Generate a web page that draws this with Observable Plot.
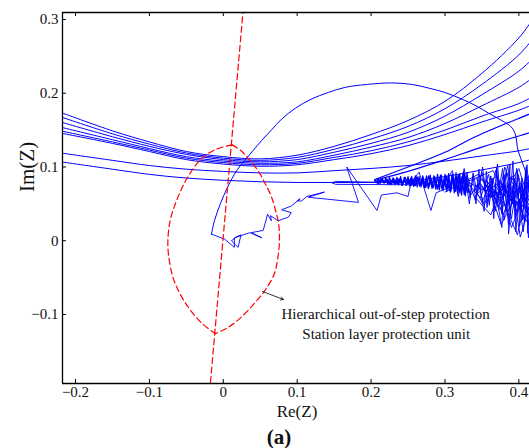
<!DOCTYPE html>
<html>
<head>
<meta charset="utf-8">
<script src="https://cdn.jsdelivr.net/npm/d3@7"></script>
<script src="https://cdn.jsdelivr.net/npm/@observablehq/plot@0.6"></script>
<style>
  html, body { margin: 0; padding: 0; background: #fff; }
</style>
</head>
<body>
<div id="chart"></div>
<script>
// ---------- axes ----------
const xDomain = [-0.2176, 0.4144];
const yDomain = [-0.1936, 0.3095];
const xTicks = [-0.2, -0.1, 0, 0.1, 0.2, 0.3, 0.4];
const yTicks = [-0.1, 0, 0.1, 0.2, 0.3];
const xLabel = "Re(Z)";
const yLabel = "Im(Z)";
const panelLabel = "(a)";
const noteLines = ["Hierarchical out-of-step protection", "Station layer protection unit"];
const noteX = [0.2196, 0.2205];
const noteY = [-0.100, -0.127];
const arrowFrom = [0.053, -0.0688];
const arrowTo = [0.0815, -0.0797];

// ---------- bowl-shaped impedance trajectories ----------
const bowlX = [-0.22, -0.15, -0.1, -0.05, 0, 0.05, 0.1, 0.15, 0.2, 0.25, 0.3, 0.35, 0.4, 0.42];
const U1 = [0.174, 0.149, 0.134, 0.121, 0.114, 0.111, 0.116, 0.128, 0.144, 0.163, 0.189, 0.227, 0.275, 0.302];
const U2 = [0.168, 0.145, 0.131, 0.119, 0.112, 0.109, 0.113, 0.124, 0.138, 0.155, 0.179, 0.212, 0.252, 0.275];
const U3 = [0.161, 0.141, 0.128, 0.117, 0.110, 0.107, 0.110, 0.120, 0.132, 0.147, 0.169, 0.198, 0.230, 0.248];
const U4 = [0.154, 0.137, 0.125, 0.114, 0.108, 0.105, 0.107, 0.116, 0.127, 0.140, 0.159, 0.183, 0.208, 0.222];
const U5 = [0.149, 0.134, 0.123, 0.112, 0.106, 0.103, 0.105, 0.113, 0.122, 0.134, 0.150, 0.169, 0.186, 0.196];
const U6 = [0.146, 0.132, 0.121, 0.110, 0.104, 0.101, 0.103, 0.110, 0.118, 0.129, 0.144, 0.161, 0.177, 0.185];
const L1 = [0.119, 0.109, 0.102, 0.097, 0.094, 0.092, 0.092, 0.095, 0.098, 0.102, 0.108, 0.115, 0.122, 0.126];
const L2 = [0.107, 0.097, 0.090, 0.085, 0.082, 0.080, 0.079, 0.079, 0.079, 0.081, 0.087, 0.096, 0.106, 0.111];

// rays leaving the tongue tip
const ray1X = [0.205, 0.25, 0.30, 0.327, 0.35, 0.40, 0.42];
const ray1Y = [0.083, 0.100, 0.120, 0.134, 0.145, 0.166, 0.174];
const ray2X = [0.205, 0.25, 0.30, 0.35, 0.40, 0.42];
const ray2Y = [0.082, 0.094, 0.110, 0.127, 0.142, 0.148];

// hairpin near the tongue
const hairX = [0.26, 0.20, 0.152, 0.147, 0.152, 0.20, 0.26];
const hairY = [0.0795, 0.0795, 0.0805, 0.0785, 0.0765, 0.0762, 0.0758];

// big swing arc
const arcX = [-0.016, -0.012, -0.004, 0.006, 0.018, 0.030, 0.040, 0.052, 0.065, 0.079, 0.098, 0.119, 0.142, 0.165, 0.195, 0.228, 0.255, 0.278, 0.300, 0.323, 0.342, 0.359, 0.377, 0.389, 0.395, 0.399, 0.407, 0.416];
const arcY = [0.009, 0.027, 0.050, 0.073, 0.095, 0.110, 0.122, 0.136, 0.150, 0.165, 0.180, 0.192, 0.201, 0.208, 0.212, 0.214, 0.212, 0.207, 0.201, 0.192, 0.183, 0.173, 0.163, 0.155, 0.145, 0.122, 0.100, 0.072];

// jagged walk from near the origin to the tongue
const walkX = [-0.016, 0.002, 0.015, 0.015, 0.024, 0.020, 0.011, 0.018, 0.036, 0.052, 0.038, 0.054, 0.060, 0.065, 0.064, 0.074, 0.088, 0.092, 0.079, 0.092, 0.104, 0.100, 0.106, 0.113, 0.137, 0.115, 0.183, 0.167, 0.208, 0.214, 0.235, 0.250, 0.254, 0.265, 0.281, 0.288, 0.305];
const walkY = [0.009, 0.002, -0.009, 0.004, 0.008, -0.009, 0.000, 0.005, 0.011, 0.004, 0.011, 0.014, 0.036, 0.027, 0.034, 0.027, 0.032, 0.038, 0.042, 0.047, 0.057, 0.054, 0.054, 0.060, 0.066, 0.059, 0.052, 0.100, 0.041, 0.062, 0.065, 0.060, 0.079, 0.093, 0.041, 0.065, 0.072];

// dense tongue (three passes)
const tongueX = [0.205, 0.2075, 0.210, 0.2125, 0.215, 0.2175, 0.220, 0.2225, 0.225, 0.2275, 0.230, 0.2325, 0.235, 0.2375, 0.240, 0.2425, 0.245, 0.2475, 0.250, 0.2525, 0.255, 0.2575, 0.260, 0.2625, 0.265, 0.2675, 0.270, 0.2725, 0.275, 0.2775, 0.280, 0.2825, 0.285, 0.2875, 0.290, 0.2925, 0.295, 0.2975, 0.300, 0.3025, 0.305, 0.3075, 0.310, 0.3125, 0.315, 0.3175, 0.320, 0.3225, 0.325, 0.3275, 0.330];
const tongueY = [0.082, 0.079, 0.084, 0.078, 0.085, 0.078, 0.085, 0.077, 0.086, 0.077, 0.085, 0.076, 0.086, 0.076, 0.087, 0.075, 0.086, 0.075, 0.087, 0.074, 0.087, 0.074, 0.088, 0.073, 0.087, 0.073, 0.088, 0.072, 0.088, 0.071, 0.089, 0.071, 0.088, 0.070, 0.090, 0.069, 0.089, 0.068, 0.090, 0.067, 0.091, 0.066, 0.090, 0.065, 0.092, 0.064, 0.091, 0.062, 0.093, 0.061, 0.092];
const tongue2X = [0.332, 0.329, 0.326, 0.323, 0.320, 0.317, 0.314, 0.311, 0.308, 0.305, 0.302, 0.299, 0.296, 0.293, 0.290, 0.287, 0.284, 0.281, 0.278, 0.275, 0.272, 0.269, 0.266, 0.263, 0.260, 0.257, 0.254, 0.251, 0.248, 0.245, 0.242, 0.239, 0.236, 0.233, 0.230, 0.227, 0.224, 0.221, 0.218, 0.215, 0.212, 0.209, 0.206];
const tongue2Y = [0.066, 0.086, 0.063, 0.087, 0.066, 0.085, 0.067, 0.086, 0.068, 0.084, 0.069, 0.085, 0.070, 0.084, 0.071, 0.084, 0.072, 0.084, 0.072, 0.083, 0.073, 0.084, 0.074, 0.083, 0.075, 0.083, 0.075, 0.083, 0.076, 0.083, 0.077, 0.083, 0.077, 0.082, 0.078, 0.082, 0.078, 0.082, 0.079, 0.082, 0.079, 0.081, 0.080];
const tongue3X = [0.206, 0.210, 0.214, 0.218, 0.222, 0.226, 0.230, 0.234, 0.238, 0.242, 0.246, 0.250, 0.254, 0.258, 0.262, 0.266, 0.270, 0.274, 0.278, 0.282, 0.286, 0.290, 0.294, 0.298, 0.302, 0.306, 0.310, 0.314, 0.318, 0.322, 0.326, 0.330];
const tongue3Y = [0.081, 0.077, 0.084, 0.079, 0.083, 0.076, 0.085, 0.078, 0.084, 0.075, 0.086, 0.077, 0.085, 0.074, 0.087, 0.076, 0.086, 0.072, 0.088, 0.074, 0.087, 0.070, 0.089, 0.072, 0.088, 0.068, 0.090, 0.070, 0.089, 0.065, 0.091, 0.066];

// tangled cluster at the right (four passes)
const clusterX = [0.330, 0.334, 0.338, 0.342, 0.346, 0.349, 0.353, 0.356, 0.360, 0.364, 0.366, 0.370, 0.373, 0.368, 0.377, 0.380, 0.384, 0.388, 0.386, 0.392, 0.395, 0.398, 0.401, 0.404, 0.407, 0.410, 0.412, 0.416, 0.405, 0.396, 0.383, 0.372, 0.360, 0.350, 0.340, 0.352, 0.362, 0.375, 0.389, 0.399, 0.411, 0.418, 0.402, 0.393, 0.381, 0.374, 0.392, 0.408, 0.415, 0.397, 0.385, 0.366, 0.379, 0.391, 0.403, 0.417];
const clusterY = [0.092, 0.058, 0.088, 0.050, 0.097, 0.060, 0.040, 0.094, 0.048, 0.085, 0.030, 0.099, 0.055, 0.070, 0.018, 0.090, 0.040, 0.104, 0.009, 0.075, 0.030, 0.095, 0.020, 0.085, 0.045, 0.100, 0.010, 0.070, 0.060, 0.050, 0.068, 0.045, 0.075, 0.052, 0.072, 0.085, 0.058, 0.082, 0.055, 0.072, 0.038, 0.060, 0.005, 0.062, 0.100, 0.065, 0.088, 0.025, 0.092, 0.040, 0.075, 0.062, 0.035, 0.070, 0.050, 0.030];
const cluster2X = [0.300, 0.310, 0.318, 0.326, 0.333, 0.338, 0.344, 0.351, 0.357, 0.362, 0.367, 0.371, 0.377, 0.383, 0.387, 0.392, 0.396, 0.401, 0.405, 0.409, 0.413, 0.418, 0.408, 0.399, 0.390, 0.382, 0.374, 0.365, 0.355, 0.346, 0.335, 0.328, 0.336, 0.348, 0.359, 0.368, 0.378, 0.386, 0.394, 0.403, 0.411, 0.417];
const cluster2Y = [0.078, 0.095, 0.060, 0.098, 0.050, 0.092, 0.064, 0.100, 0.045, 0.088, 0.058, 0.104, 0.036, 0.094, 0.048, 0.108, 0.012, 0.078, 0.028, 0.096, 0.004, 0.066, 0.055, 0.090, 0.030, 0.075, 0.050, 0.082, 0.066, 0.078, 0.062, 0.080, 0.072, 0.058, 0.090, 0.040, 0.098, 0.022, 0.085, 0.042, 0.103, 0.018];
const cluster3X = [0.320, 0.330, 0.341, 0.350, 0.358, 0.369, 0.376, 0.385, 0.391, 0.397, 0.404, 0.412, 0.406, 0.398, 0.388, 0.380, 0.372, 0.361, 0.353, 0.343, 0.360, 0.375, 0.389, 0.402, 0.414, 0.419];
const cluster3Y = [0.070, 0.088, 0.055, 0.093, 0.052, 0.096, 0.062, 0.102, 0.050, 0.098, 0.060, 0.080, 0.012, 0.065, 0.085, 0.028, 0.078, 0.070, 0.048, 0.085, 0.060, 0.074, 0.064, 0.070, 0.048, 0.095];
const cluster4X = [0.300, 0.345, 0.372, 0.400, 0.418, 0.385, 0.350, 0.330, 0.365, 0.395, 0.417, 0.390, 0.370, 0.340, 0.362, 0.384, 0.410, 0.398, 0.380, 0.356, 0.376, 0.404, 0.419, 0.393, 0.372];
const cluster4Y = [0.066, 0.090, 0.052, 0.098, 0.040, 0.060, 0.070, 0.080, 0.095, 0.045, 0.085, 0.018, 0.088, 0.060, 0.035, 0.092, 0.060, 0.008, 0.050, 0.082, 0.022, 0.076, 0.012, 0.058, 0.042];

// ---------- protection characteristic (red dashed) ----------
const lensLeftX = [0.012, -0.010, -0.030, -0.050, -0.063, -0.072, -0.075, -0.074, -0.068, -0.058, -0.046, -0.030, -0.011];
const lensLeftY = [0.130, 0.124, 0.111, 0.083, 0.055, 0.027, 0.000, -0.020, -0.050, -0.073, -0.092, -0.111, -0.126];
const lensRightX = [0.012, 0.024, 0.035, 0.047, 0.057, 0.065, 0.071, 0.075, 0.076, 0.074, 0.069, 0.056, 0.042, 0.024, 0.006, -0.011];
const lensRightY = [0.130, 0.122, 0.110, 0.095, 0.077, 0.060, 0.040, 0.022, 0.000, -0.022, -0.045, -0.068, -0.085, -0.104, -0.118, -0.126];
const blinderX = [-0.0185, 0.0275];
const blinderY = [-0.205, 0.320];

// ---------- build tables ----------
const zipXY = (xs, ys, id) => xs.map((x, i) => ({x, y: ys[i], id}));
const bowlRows = [U1, U2, U3, U4, U5, U6, L1, L2].flatMap((ys, k) => zipXY(bowlX, ys, "b" + k));
const rayRows = [...zipXY(ray1X, ray1Y, "r1"), ...zipXY(ray2X, ray2Y, "r2")];
const arcRows = zipXY(arcX, arcY, "arc");
const jaggedRows = [
  ...zipXY(walkX, walkY, "walk"),
  ...zipXY(clusterX, clusterY, "cl"),
  ...zipXY(cluster2X, cluster2Y, "cl2"),
  ...zipXY(cluster3X, cluster3Y, "cl3"),
  ...zipXY(cluster4X, cluster4Y, "cl4"),
  ...zipXY(hairX, hairY, "hair")
];
const tongueRows = [...zipXY(tongueX, tongueY, "t1"), ...zipXY(tongue2X, tongue2Y, "t2"), ...zipXY(tongue3X, tongue3Y, "t3")];
const redRows = [...zipXY(lensLeftX, lensLeftY, "ll"), ...zipXY(lensRightX, lensRightY, "lr")];
const blinderRows = zipXY(blinderX, blinderY, "bl");

const serif = "Liberation Serif, Times New Roman, serif";
const blue = "#0000ff";
const red = "#ff0000";
const W = 529, H = 448, mL = 62, mR = 0, mT = 12, mB = 65;
const innerW = W - mL - mR, innerH = H - mT - mB;
const fmt = d => (d < 0 ? "\u2212" : "") + String(Math.abs(d));

const plot = Plot.plot({
  width: W,
  height: H,
  marginLeft: mL,
  marginRight: mR,
  marginTop: mT,
  marginBottom: mB,
  style: {background: "#fff", fontFamily: serif, overflow: "visible"},
  x: {domain: xDomain, label: null},
  y: {domain: yDomain, label: null},
  marks: [
    // data
    Plot.line(bowlRows, {x: "x", y: "y", z: "id", stroke: blue, strokeWidth: 1, curve: "catmull-rom", clip: true}),
    Plot.line(rayRows, {x: "x", y: "y", z: "id", stroke: blue, strokeWidth: 1.2, curve: "catmull-rom", clip: true}),
    Plot.line(arcRows, {x: "x", y: "y", z: "id", stroke: blue, strokeWidth: 1, curve: "catmull-rom", clip: true}),
    Plot.line(jaggedRows, {x: "x", y: "y", z: "id", stroke: blue, strokeWidth: 0.9, clip: true}),
    Plot.line(tongueRows, {x: "x", y: "y", z: "id", stroke: blue, strokeWidth: 1.3, clip: true}),
    Plot.line(redRows, {x: "x", y: "y", z: "id", stroke: red, strokeWidth: 1.2, strokeDasharray: "6,3.5", curve: "catmull-rom", clip: true}),
    Plot.line(blinderRows, {x: "x", y: "y", stroke: red, strokeWidth: 1.2, strokeDasharray: "6,3.5", clip: true}),
    // annotation
    Plot.arrow([0], {x1: () => arrowFrom[0], y1: () => arrowFrom[1], x2: () => arrowTo[0], y2: () => arrowTo[1], stroke: "#000", strokeWidth: 0.8, headLength: 6}),
    Plot.text(noteLines, {x: (d, i) => noteX[i], y: (d, i) => noteY[i], text: d => d, fontSize: 15, fontFamily: serif, fill: "#111", textAnchor: "middle", lineAnchor: "middle"}),
    // frame (left, top, bottom)
    Plot.ruleX([xDomain[0]], {stroke: "#000", strokeWidth: 1.3}),
    Plot.ruleY([yDomain[0]], {stroke: "#000", strokeWidth: 1.3}),
    Plot.ruleY([yDomain[1]], {stroke: "#000", strokeWidth: 1.3}),
    // inward ticks
    Plot.tickX(xTicks, {x: d => d, stroke: "#000", strokeWidth: 1, insetTop: innerH - 4}),
    Plot.tickX(xTicks, {x: d => d, stroke: "#000", strokeWidth: 1, insetBottom: innerH - 4}),
    Plot.tickY(yTicks, {y: d => d, stroke: "#000", strokeWidth: 1, insetRight: innerW - 4}),
    // tick labels
    Plot.axisX(xTicks, {anchor: "bottom", tickSize: 0, tickPadding: 3, fontSize: 15, fontFamily: serif, fill: "#111", label: null, tickFormat: fmt}),
    Plot.axisY(yTicks, {anchor: "left", tickSize: 0, tickPadding: 4, fontSize: 15, fontFamily: serif, fill: "#111", label: null, tickFormat: fmt}),
    // axis titles
    Plot.text([xLabel], {text: d => d, frameAnchor: "bottom", dy: 28, dx: 1, fontSize: 17, fontFamily: serif, fill: "#111", lineAnchor: "middle"}),
    Plot.text([yLabel], {text: d => d, frameAnchor: "left", rotate: -90, dx: -35.5, dy: -6, fontSize: 21, fontFamily: serif, fill: "#111", lineAnchor: "middle"}),
    Plot.text([panelLabel], {text: d => d, frameAnchor: "bottom", dy: 54, dx: -17, fontSize: 21, fontWeight: "bold", fontFamily: serif, fill: "#111", lineAnchor: "middle"})
  ]
});
document.getElementById("chart").appendChild(plot);
</script>
</body>
</html>
